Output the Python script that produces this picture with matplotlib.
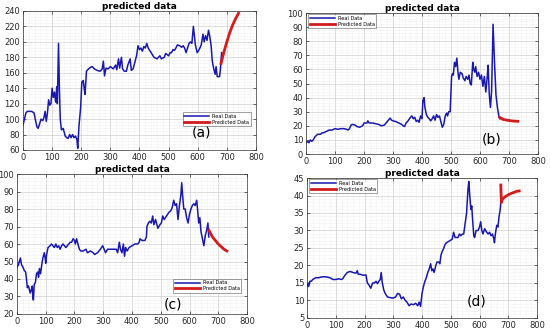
import matplotlib
matplotlib.use("Agg")
import matplotlib.pyplot as plt
from matplotlib.ticker import AutoMinorLocator

# ---- panel (a) ----
a_real_x = [0, 5, 10, 15, 20, 30, 38, 42, 48, 52, 58, 62, 68, 72, 76, 80, 84, 88, 92, 96,
            100, 104, 108, 112, 116, 118, 122, 125, 128, 132, 138, 145, 150, 155, 160, 165,
            170, 175, 180, 185, 188, 192, 198, 202, 207, 210, 213, 218, 225, 232, 238, 245,
            255, 265, 272, 276, 280, 285, 292, 300, 310, 318, 322, 328, 332, 338, 342, 348,
            355, 360, 368, 372, 378, 385, 390, 395, 400, 405, 410, 415, 420, 425, 430, 440,
            450, 460, 470, 475, 485, 490, 500, 505, 510, 515, 520, 525, 530, 538, 545, 550,
            555, 560, 565, 570, 575, 580, 585, 588, 592, 598, 605, 612, 618, 622, 627, 632,
            637, 642, 646, 650, 655, 660, 663, 667, 675, 678, 682]
a_real_y = [92, 100, 108, 110, 110, 110, 108, 100, 90, 88, 95, 100, 98, 102, 110, 97, 108, 125, 118, 120,
            140, 128, 135, 122, 142, 120, 198, 140, 100, 86, 88, 78, 76, 75, 80, 76,
            80, 76, 78, 74, 62, 90, 115, 148, 150, 140, 132, 162, 165, 167, 168, 165,
            163, 162, 165, 175, 156, 166, 165, 168, 165, 170, 164, 178, 166, 180, 165, 162,
            162, 170, 178, 163, 165, 175, 182, 195, 190, 192, 188, 194, 192, 198, 192, 186,
            180, 178, 182, 178, 180, 185, 182, 186, 186, 190, 189, 192, 196, 195, 193, 195,
            192, 186, 192, 198, 200, 198, 220, 210, 196, 186, 190, 196, 210, 200, 208, 202,
            215, 206, 195, 175, 165, 158, 168, 155, 155, 165, 186]
a_pred_x = [680, 690, 700, 710, 720, 730, 740]
a_pred_y = [172, 187, 200, 212, 222, 230, 237]

# ---- panel (b) ----
b_real_x = [0, 5, 10, 15, 20, 25, 30, 35, 40, 50, 55, 60, 70, 80, 90, 100, 110, 120, 130, 140,
            145, 150, 155, 160, 170, 175, 185, 195, 200, 210, 213, 218, 230, 240, 250, 260,
            270, 280, 290, 295, 300, 310, 320, 330, 335, 340, 345, 350, 360, 365, 370, 375,
            380, 385, 390, 395, 400, 403, 407, 410, 415, 420, 425, 430, 435, 440, 445, 450,
            455, 460, 465, 470, 475, 480, 485, 488, 492, 497, 502, 505, 508, 512, 516, 520,
            524, 527, 532, 538, 542, 548, 552, 558, 562, 566, 570, 575, 578, 582, 585, 590,
            595, 600, 605, 610, 615, 620, 625, 628, 632, 636, 640, 645, 650, 655, 660, 665, 668]
b_real_y = [8, 9, 8, 10, 9, 10, 12, 13, 14, 14, 15, 15, 16, 17, 17, 18, 17.5, 18, 18, 17.5,
            17, 18, 20.5, 21, 20.5, 19.5, 19, 20, 22, 22, 23.5, 22, 22, 21.5, 21, 20,
            20.5, 23, 25.5, 24, 23.5, 23, 22, 21, 20, 19.5, 22, 23, 26, 27, 25, 26,
            23, 24, 22.5, 27, 25, 38, 40, 33, 28, 26, 25, 23.5, 25, 27, 24, 28,
            26, 27, 23, 19, 21, 27, 29, 27, 30, 30, 55, 57, 56, 65, 62, 68,
            58, 53, 58, 57, 54, 52, 55, 53, 56, 50, 49, 65, 60, 58, 62, 55,
            58, 53, 56, 48, 55, 44, 55, 63, 42, 33, 45, 92, 65, 42, 33, 27, 25]
b_pred_x = [668, 680, 690, 700, 710, 720, 730]
b_pred_y = [26, 24.5, 24.1, 23.8, 23.5, 23.3, 23.2]

# ---- panel (c) ----
c_real_x = [0, 5, 8, 12, 16, 20, 25, 30, 33, 36, 40, 43, 46, 50, 53, 55, 57, 60, 64, 68,
            72, 75, 78, 82, 86, 90, 95, 98, 100, 103, 108, 115, 120, 125, 130, 135, 140,
            145, 150, 155, 160, 170, 175, 180, 185, 190, 195, 200, 203, 207, 212, 217, 222,
            230, 240, 245, 255, 265, 270, 280, 290, 298, 303, 308, 315, 325, 335, 345, 350,
            356, 360, 365, 370, 374, 378, 383, 390, 400, 410, 420, 425, 428, 435, 445, 450,
            452, 457, 462, 467, 472, 476, 482, 490, 497, 502, 507, 512, 520, 528, 535, 540,
            545, 550, 555, 560, 565, 570, 573, 576, 580, 585, 590, 595, 600, 605, 610, 615,
            620, 625, 628, 632, 636, 640, 645, 650, 655, 660, 664, 667]
c_real_y = [47, 48, 50, 52, 48, 47, 45, 44, 40, 35, 36, 34, 32, 34, 36, 30, 28, 37, 38, 43,
            44, 41, 46, 43, 48, 52, 55, 52, 49, 54, 58, 59, 60, 59, 58, 60, 58,
            59, 57, 59, 60, 58, 59, 60, 61, 61, 63, 62, 60, 63, 60, 57, 56,
            56, 57, 55, 56, 55, 54, 55, 57, 59, 57, 55, 57, 57, 57, 57, 55,
            61, 57, 55, 60, 53, 58, 56, 58, 59, 60, 60, 61, 63, 62, 62, 64,
            70, 72, 73, 72, 76, 71, 74, 69, 71, 72, 76, 74, 76, 78, 79, 81,
            85, 82, 83, 74, 82, 88, 95, 88, 80, 80, 75, 72, 77, 80, 82, 83,
            82, 85, 80, 72, 75, 67, 63, 59, 65, 68, 72, 64]
c_pred_x = [667, 680, 690, 700, 710, 720, 730]
c_pred_y = [68, 64, 62, 60, 58.5, 57, 56]

# ---- panel (d) ----
d_real_x = [0, 3, 6, 10, 15, 20, 30, 40, 50, 60, 70, 80, 90, 100, 110, 120, 125, 130, 140, 150,
            160, 170, 175, 178, 185, 195, 205, 210, 215, 222, 228, 235, 240, 245, 250, 255,
            258, 262, 267, 272, 280, 290, 300, 308, 315, 322, 328, 335, 340, 348, 355, 362,
            370, 378, 385, 390, 395, 400, 405, 410, 415, 420, 425, 430, 434, 438, 442, 448,
            452, 458, 462, 466, 470, 475, 480, 485, 495, 505, 510, 515, 525, 530, 535, 540,
            545, 550, 555, 560, 563, 566, 570, 573, 576, 580, 583, 588, 595, 600, 604, 608,
            612, 618, 625, 630, 635, 640, 645, 650, 652, 655, 660, 664, 668, 672, 675]
d_real_y = [14, 15, 14, 15.5, 15.5, 16, 16.5, 16.5, 16.7, 16.8, 16.7, 16.5, 16, 16, 16.2, 16, 16.3, 17, 18, 18.3,
            18, 17.8, 18.5, 17.5, 17.5, 17.2, 17.3, 15, 14.5, 13.5, 15, 15, 15.5, 14.8, 15.5, 16,
            18, 15, 13, 12, 11, 10.8, 10.7, 11, 12, 11.8, 10.5, 11, 10.2, 9.5, 8.5, 9,
            8.8, 9.2, 8.5, 9.5, 8.3, 12, 14, 15.5, 16.5, 18, 19, 20.5, 18.5, 19, 18, 20,
            21, 21, 20.5, 23, 24, 24.8, 26, 26.5, 27, 27.5, 29.5, 28, 28, 29, 28.5, 29,
            29, 32, 35, 42, 44, 40, 36, 37, 33, 28.5, 28, 30, 30, 31, 32.5, 30,
            29, 30.5, 29.5, 29, 29.5, 28.5, 29, 27.5, 26.5, 29, 31.5, 31, 34, 36, 39]
d_pred_x = [674, 676, 680, 690, 700, 710, 720, 730, 738]
d_pred_y = [43, 38, 39, 39.7, 40.2, 40.6, 40.9, 41.2, 41.3]

panels = [
    dict(rect=[0.0418, 0.5455, 0.4236, 0.4212], rx=a_real_x, ry=a_real_y, px=a_pred_x, py=a_pred_y,
         ylim=(60, 240), ystep=20, tag="(a)", tagpos=(613, 82),
         leg=(0.685, 0.27), legloc="upper left"),
    dict(rect=[0.5564, 0.5333, 0.4218, 0.4273], rx=b_real_x, ry=b_real_y, px=b_pred_x, py=b_pred_y,
         ylim=(0, 100), ystep=10, tag="(b)", tagpos=(640, 10.4),
         leg=(0.01, 0.99), legloc="upper left"),
    dict(rect=[0.0309, 0.0485, 0.4182, 0.4242], rx=c_real_x, ry=c_real_y, px=c_pred_x, py=c_pred_y,
         ylim=(20, 100), ystep=10, tag="(c)", tagpos=(543, 25.7),
         leg=(0.68, 0.25), legloc="upper left"),
    dict(rect=[0.5582, 0.0364, 0.4182, 0.4242], rx=d_real_x, ry=d_real_y, px=d_pred_x, py=d_pred_y,
         ylim=(5, 45), ystep=5, tag="(d)", tagpos=(591, 9.8),
         leg=(0.01, 0.99), legloc="upper left"),
]

fig = plt.figure(figsize=(5.5, 3.3), dpi=100)
for p in panels:
    ax = fig.add_axes(p["rect"])
    ax.plot(p["rx"], p["ry"], color="#1818b0", lw=1.1, label="Real Data")
    ax.plot(p["px"], p["py"], color="#d41a1a", lw=2.0, label="Predicted Data")
    ax.set_xlim(0, 800)
    ax.set_ylim(*p["ylim"])
    ax.set_xticks(range(0, 801, 100))
    lo, hi = p["ylim"]
    ax.set_yticks(range(lo, hi + 1, p["ystep"]))
    ax.xaxis.set_minor_locator(AutoMinorLocator(5))
    ax.yaxis.set_minor_locator(AutoMinorLocator(5))
    ax.grid(which="major", color="#cfcfcf", lw=0.5)
    ax.grid(which="minor", color="#dedede", lw=0.4, ls=":")
    ax.set_axisbelow(True)
    ax.tick_params(which="both", direction="in", labelsize=6, length=2, width=0.4, pad=2,
                   top=True, right=True, labelcolor="#262626")
    ax.tick_params(which="minor", length=0)
    for s in ax.spines.values():
        s.set_linewidth(0.5)
        s.set_color("#333333")
    ax.set_title("predicted data", fontsize=6.5, fontweight="bold", pad=1.5)
    ax.text(*p["tagpos"], p["tag"], fontsize=10, ha="center", va="center")
    leg = ax.legend(loc=p["legloc"], bbox_to_anchor=p["leg"], fontsize=3.6, frameon=True,
                    fancybox=False, edgecolor="#333333", borderpad=0.3, labelspacing=0.15,
                    handlelength=5, handletextpad=0.6, borderaxespad=0)
    leg.get_frame().set_linewidth(0.4)

fig.savefig("out.png", dpi=100)
